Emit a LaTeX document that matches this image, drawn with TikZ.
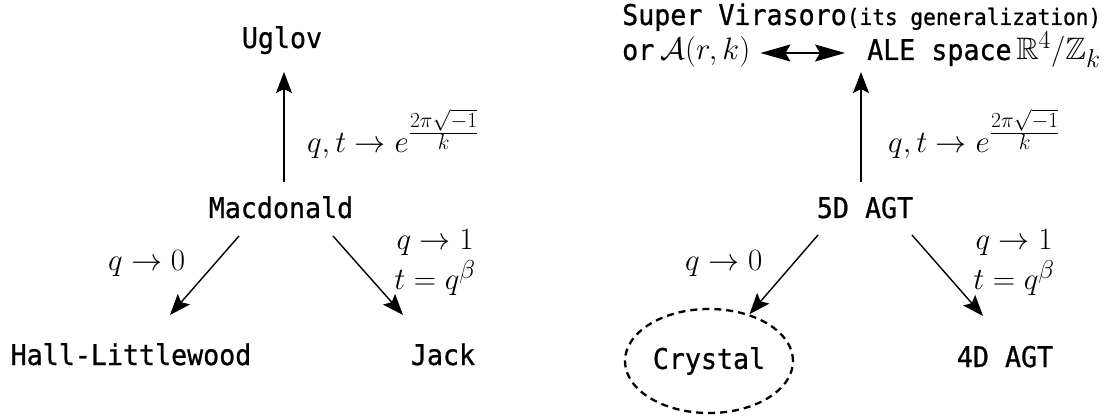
\documentclass[tikz,border=0pt]{standalone}
\usepackage{amssymb}
\usepackage{fontspec}
\newfontfamily\gothic[FakeStretch=0.935,FakeBold=0.8]{DejaVu Sans Mono}
\usetikzlibrary{arrows.meta,shapes.geometric}
\newcommand{\mymath}[1]{\scalebox{1.246}{\Huge$#1$}}
\tikzset{
  txt/.style={font=\gothic\fontsize{28.5}{34}\selectfont, inner sep=0pt},
  lbl/.style={inner sep=0pt},
  arr/.style={-{Stealth[length=21pt,width=16pt,inset=4pt]}, line width=1.4pt},
  dbl/.style={{Stealth[length=30pt,width=17pt,inset=5pt]}-{Stealth[length=30pt,width=17pt,inset=5pt]}, line width=1.1pt},
  dashell/.style={ellipse, draw, line width=2.3pt, dash pattern=on 7pt off 5pt,
    minimum width=168pt, minimum height=104pt},
}
\begin{document}
\begin{tikzpicture}[x=1pt,y=-1pt]
\useasboundingbox (0,0) rectangle (1107,419);
% left diagram
\node[txt, anchor=base] (uglov) at (282,48) {Uglov};
\node[txt, anchor=base] (mac) at (281,218) {Macdonald};
\node[txt, anchor=base] (hl) at (131,365) {Hall-Littlewood};
\node[txt, anchor=base] (jack) at (443,365) {Jack};
\draw[arr] ([shift={(3,-36)}]mac.base) -- ([shift={(2,24)}]uglov.base);
\draw[arr] ([shift={(-42,18)}]mac.base) -- ([shift={(39,-50)}]hl.base);
\draw[arr] ([shift={(52,18)}]mac.base) -- ([shift={(-40,-50)}]jack.base);
\node[lbl, anchor=base west] (lup) at (307,153) {\mymath{q,t\to e^{\frac{2\pi\sqrt{-1}}{k}}}};
\node[lbl, anchor=base west] (lleft) at (108,271) {\mymath{q\to0}};
\node[lbl] (lright) at (435,262) {\mymath{\begin{array}{c}q\to1\\t=q^\beta\end{array}}};
% right diagram
\node[txt, anchor=base west] (sv) at (622,25) {Super Virasoro{\fontsize{22.6}{27}\selectfont(its generalization)}};
\node[txt, anchor=base west] (ora) at (622,60) {or\hspace{6pt}\mymath{\mathcal{A}(r,k)}};
\node[txt, anchor=base west] (ale) at (867,60) {ALE space\,\mymath{\mathbb{R}^4/\mathbb{Z}_k}};
\node[txt, anchor=base] (agt5) at (865,218) {5D AGT};
\node[txt, dashell] (cry) at (709,361) {Crystal};
\node[txt, anchor=base] (agt4) at (1005,367) {4D AGT};
\draw[dbl] ([shift={(10,-7)}]ora.base east) -- ([shift={(-22,-7)}]ale.base west);
\draw[arr] ([shift={(-4,-36)}]agt5.base) -- ([shift={(-6,12)}]ale.base west);
\draw[arr] ([shift={(-47,17)}]agt5.base) -- (cry);
\draw[arr] ([shift={(47,17)}]agt5.base) -- ([shift={(-22,-51)}]agt4.base);
\node[lbl, anchor=base west] (rup) at (888,153) {\mymath{q,t\to e^{\frac{2\pi\sqrt{-1}}{k}}}};
\node[lbl, anchor=base west] (rleft) at (685,271) {\mymath{q\to0}};
\node[lbl] (rright) at (1014,262) {\mymath{\begin{array}{c}q\to1\\t=q^\beta\end{array}}};
\end{tikzpicture}
\end{document}
